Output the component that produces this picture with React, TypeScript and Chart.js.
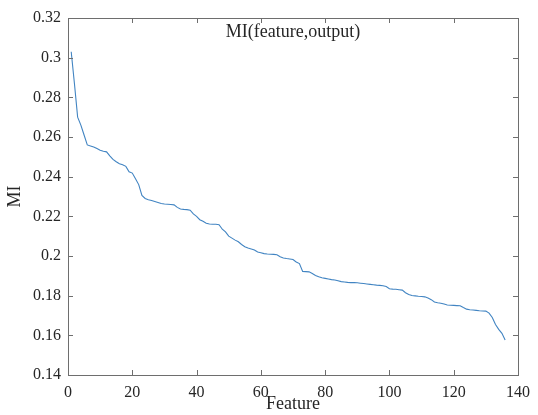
import React, { useEffect, useRef } from "react";
import { Chart, registerables } from "chart.js";

Chart.register(...registerables);

const titleText = "MI(feature,output)";
const xLabel = "Feature";
const yLabel = "MI";
const xTicks = [0, 20, 40, 60, 80, 100, 120, 140];
const yTicks = [0.14, 0.16, 0.18, 0.2, 0.22, 0.24, 0.26, 0.28, 0.3, 0.32];

// MI value for feature 1..136 (sorted descending)
const miValues = [
  0.303, 0.287, 0.270, 0.266, 0.261, 0.256, 0.2555, 0.2550, 0.2542, 0.2533,
  0.2528, 0.2525, 0.2505, 0.2487, 0.2475, 0.2465, 0.2460, 0.2452, 0.2425, 0.2418,
  0.2390, 0.2360, 0.2305, 0.2290, 0.2284, 0.2280, 0.2275, 0.2270, 0.2265, 0.2262,
  0.2261, 0.2260, 0.2258, 0.2245, 0.2237, 0.2235, 0.2234, 0.2231, 0.2212, 0.2200,
  0.2183, 0.2175, 0.2165, 0.2161, 0.2160, 0.2160, 0.2158, 0.2135, 0.2122, 0.2100,
  0.2090, 0.2080, 0.2072, 0.2058, 0.2047, 0.2040, 0.2035, 0.2030, 0.2020, 0.2016,
  0.2012, 0.2010, 0.2009, 0.2008, 0.2006, 0.1996, 0.1990, 0.1987, 0.1985, 0.1982,
  0.1970, 0.1962, 0.1922, 0.1921, 0.1920, 0.1912, 0.1902, 0.1895, 0.1890, 0.1887,
  0.1884, 0.1881, 0.1879, 0.1875, 0.1871, 0.1869, 0.1867, 0.1866, 0.1866, 0.1865,
  0.1863, 0.1861, 0.1859, 0.1857, 0.1855, 0.1853, 0.1852, 0.1850, 0.1846, 0.1835,
  0.1833, 0.1832, 0.1830, 0.1828, 0.1815, 0.1806, 0.1801, 0.1799, 0.1797, 0.1796,
  0.1794, 0.1788, 0.1780, 0.1768, 0.1764, 0.1762, 0.1758, 0.1753, 0.1752, 0.1751,
  0.1750, 0.1749, 0.1740, 0.1732, 0.1729, 0.1728, 0.1726, 0.1724, 0.1723, 0.1722,
  0.1712, 0.1690, 0.1655, 0.1630, 0.1610, 0.1576,
];

const FONT = "'Liberation Serif', 'Times New Roman', serif";
const TEXT_COLOR = "#262626";
const AXIS_COLOR = "#6e6e6e";

const matlabAxesPlugin = {
  id: "matlabAxes",
  afterDraw(chart: any) {
    const { ctx, chartArea, scales } = chart;
    const { left, right, top, bottom } = chartArea;
    ctx.save();
    ctx.strokeStyle = AXIS_COLOR;
    ctx.lineWidth = 1;
    const tl = 5;
    ctx.beginPath();
    for (const v of xTicks) {
      const px = Math.round(scales.x.getPixelForValue(v)) + 0.5;
      ctx.moveTo(px, bottom);
      ctx.lineTo(px, bottom - tl);
      ctx.moveTo(px, top);
      ctx.lineTo(px, top + tl);
    }
    for (const v of yTicks) {
      const py = Math.round(scales.y.getPixelForValue(v)) + 0.5;
      ctx.moveTo(left, py);
      ctx.lineTo(left + tl, py);
      ctx.moveTo(right, py);
      ctx.lineTo(right - tl, py);
    }
    ctx.stroke();
    ctx.strokeRect(Math.round(left) + 0.5, Math.round(top) + 0.5, Math.round(right - left), Math.round(bottom - top));
    ctx.fillStyle = TEXT_COLOR;
    ctx.font = `18px ${FONT}`;
    ctx.textAlign = "center";
    ctx.textBaseline = "middle";
    ctx.fillText(titleText, (left + right) / 2, top + 14);
    ctx.restore();
  },
};

export default function App() {
  const canvasRef = useRef<HTMLCanvasElement | null>(null);

  useEffect(() => {
    document.body.style.margin = "0";
    const canvas = canvasRef.current;
    if (!canvas) return;
    const chart = new Chart(canvas, {
      type: "line",
      data: {
        datasets: [
          {
            data: miValues.map((v, i) => ({ x: i + 1, y: v })),
            borderColor: "#4184c2",
            borderWidth: 1.1,
            pointRadius: 0,
            tension: 0,
            fill: false,
          },
        ],
      },
      options: {
        animation: false,
        responsive: false,
        maintainAspectRatio: false,
        layout: { padding: { left: 0, right: 15, top: 18, bottom: 0 } },
        plugins: {
          legend: { display: false },
          tooltip: { enabled: false },
          title: { display: false },
        },
        scales: {
          x: {
            type: "linear",
            min: 0,
            max: 140,
            afterBuildTicks: (scale: any) => {
              scale.ticks = xTicks.map((v) => ({ value: v }));
            },
            afterFit: (scale: any) => {
              scale.height = 40;
            },
            grid: { display: false, drawTicks: false },
            border: { display: false },
            ticks: {
              color: TEXT_COLOR,
              font: { family: FONT, size: 16 },
              padding: 8,
              maxRotation: 0,
              autoSkip: false,
              callback: (v: any) => String(Number(Number(v).toFixed(2))),
            },
            title: {
              display: true,
              text: xLabel,
              color: TEXT_COLOR,
              font: { family: FONT, size: 18 },
              padding: { top: 0, bottom: 0 },
            },
          },
          y: {
            type: "linear",
            min: 0.14,
            max: 0.32,
            afterBuildTicks: (scale: any) => {
              scale.ticks = yTicks.map((v) => ({ value: v }));
            },
            afterFit: (scale: any) => {
              scale.width = 68;
            },
            grid: { display: false, drawTicks: false },
            border: { display: false },
            ticks: {
              color: TEXT_COLOR,
              font: { family: FONT, size: 16 },
              padding: 7,
              autoSkip: false,
              callback: (v: any) => String(Number(Number(v).toFixed(2))),
            },
            title: {
              display: true,
              text: yLabel,
              color: TEXT_COLOR,
              font: { family: FONT, size: 18 },
              padding: { top: 4, bottom: 0 },
            },
          },
        },
      },
      plugins: [matlabAxesPlugin],
    });
    return () => chart.destroy();
  }, []);

  return (
    <div style={{ width: 538, height: 415, background: "#fff" }}>
      <canvas ref={canvasRef} width={538} height={415} style={{ display: "block" }} />
    </div>
  );
}
